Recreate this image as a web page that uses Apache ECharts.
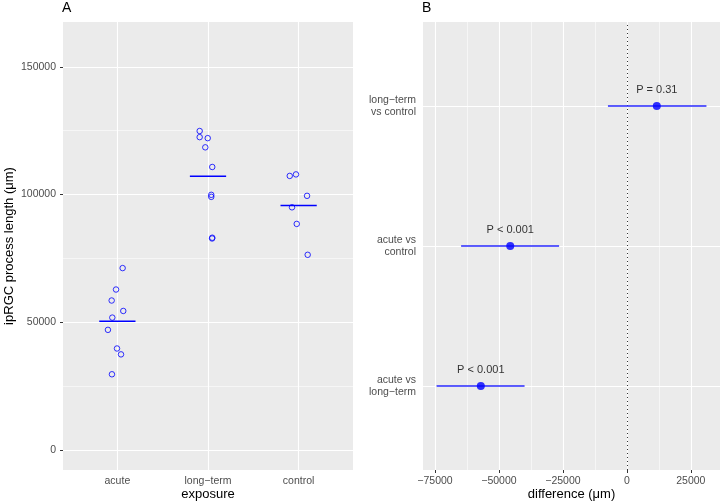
<!DOCTYPE html>
<html><head><meta charset="utf-8">
<script src="https://cdn.jsdelivr.net/npm/echarts@6/dist/echarts.min.js"></script>
<style>html,body{margin:0;padding:0;background:#fff}#c{width:720px;height:503px}</style>
</head><body><div id="c"></div>
<script>
// ---- Panel A data ----
const exposureCategories = ['acute', 'long\u2212term', 'control'];
const acuteValues    = [71200, 62800, 58500, 54400, 51800, 47000, 39700, 37400, 29600];
const acuteJitter    = [0.058, -0.015, -0.063, 0.065, -0.056, -0.104, -0.004, 0.040, -0.060];
const longTermValues = [124900, 122500, 122100, 118500, 110800, 99900, 99100, 83100, 82800];
const longTermJitter = [-0.092, -0.092, -0.003, -0.030, 0.047, 0.036, 0.036, 0.047, 0.045];
const controlValues  = [107300, 107900, 99500, 95000, 88500, 76400];
const controlJitter  = [-0.098, -0.029, 0.093, -0.073, -0.021, 0.100];
const groupMeans     = [50400, 107200, 95700];
const yTicksA        = [0, 50000, 100000, 150000];
const yMinorA        = [25000, 75000, 125000];

// ---- Panel B data ----
const comparisons = ['acute vs\nlong\u2212term', 'acute vs\ncontrol', 'long\u2212term\nvs control'];
const estimates   = [-57100, -45600, 11700];
const lowerCI     = [-74400, -64800, -7400];
const upperCI     = [-40000, -26500, 31100];
const pLabels     = ['P < 0.001', 'P < 0.001', 'P = 0.31'];
const xTicksB     = [-75000, -50000, -25000, 0, 25000];
const xMinorB     = [-62500, -37500, -12500, 12500];

const FONT = 'Liberation Sans, Arial, Helvetica, sans-serif';
const BLUE = '#0000FF';
const catPos = [1, 2, 3];
const fmtNum = v => (v < 0 ? '\u2212' + Math.abs(v) : String(v));

function gridLines(xi, yi, xs, ys, width) {
  const data = [];
  xs.forEach(v => data.push({ xAxis: v }));
  ys.forEach(v => data.push({ yAxis: v }));
  return {
    type: 'line', xAxisIndex: xi, yAxisIndex: yi, data: [], z: 1, silent: true,
    markLine: { z: 1, silent: true, symbol: 'none', animation: false, label: { show: false },
      emphasis: { disabled: true },
      lineStyle: { color: '#FFFFFF', width: width, type: 'solid' }, data: data }
  };
}

const series = [];
series.push(gridLines(0, 0, catPos, yTicksA, 1.1));
series.push(gridLines(0, 0, [], yMinorA, 0.55));
series.push(gridLines(1, 1, xTicksB, catPos, 1.1));
series.push(gridLines(1, 1, xMinorB, [], 0.55));
series.push({
  type: 'line', xAxisIndex: 1, yAxisIndex: 1, data: [], z: 2, silent: true,
  markLine: { z: 2, silent: true, symbol: 'none', animation: false, label: { show: false },
    emphasis: { disabled: true },
    lineStyle: { color: '#333333', width: 1, type: [1, 3] }, data: [{ xAxis: 0 }] }
});

// Panel A points and mean bars
[[acuteValues, acuteJitter], [longTermValues, longTermJitter], [controlValues, controlJitter]].forEach((g, i) => {
  series.push({
    type: 'scatter', xAxisIndex: 0, yAxisIndex: 0, z: 6,
    symbol: 'circle', symbolSize: 5.5,
    itemStyle: { color: 'rgba(0,0,0,0)', borderColor: BLUE, borderWidth: 1 },
    data: g[0].map((v, k) => [catPos[i] + g[1][k], v])
  });
  series.push({
    type: 'line', xAxisIndex: 0, yAxisIndex: 0, z: 5, showSymbol: false, symbol: 'none',
    lineStyle: { color: BLUE, width: 1.6 },
    data: [[catPos[i] - 0.2, groupMeans[i]], [catPos[i] + 0.2, groupMeans[i]]]
  });
});

// Panel B intervals and estimates
comparisons.forEach((c, i) => {
  series.push({
    type: 'line', xAxisIndex: 1, yAxisIndex: 1, z: 5, showSymbol: false, symbol: 'none',
    lineStyle: { color: '#2828FF', width: 1.5 },
    data: [[lowerCI[i], catPos[i]], [upperCI[i], catPos[i]]]
  });
});
series.push({
  type: 'scatter', xAxisIndex: 1, yAxisIndex: 1, z: 6, symbol: 'circle', symbolSize: 8,
  itemStyle: { color: BLUE },
  label: { show: true, position: 'top', distance: 7, color: '#000', fontFamily: FONT, fontSize: 11,
    formatter: p => pLabels[p.dataIndex] },
  data: estimates.map((v, i) => [v, catPos[i]])
});

const tickStyle = { show: true, length: 3, lineStyle: { color: '#333333', width: 1 } };
const labelStyle = { color: '#4D4D4D', fontFamily: FONT, fontSize: 10.5 };
const nameStyle = { color: '#000', fontFamily: FONT, fontSize: 13 };

const option = {
  animation: false,
  backgroundColor: '#FFFFFF',
  grid: [
    { left: 63, top: 22, width: 290, height: 448, show: true, backgroundColor: '#EBEBEB', borderWidth: 0,
      containLabel: false, outerBoundsMode: 'none' },
    { left: 423, top: 22, width: 297, height: 448, show: true, backgroundColor: '#EBEBEB', borderWidth: 0,
      containLabel: false, outerBoundsMode: 'none' }
  ],
  xAxis: [
    { type: 'value', gridIndex: 0, min: 0.4, max: 3.6,
      axisLine: { show: false }, splitLine: { show: false },
      axisTick: Object.assign({ customValues: catPos }, tickStyle),
      axisLabel: Object.assign({ customValues: catPos, margin: 6,
        formatter: v => exposureCategories[Math.round(v) - 1] }, labelStyle),
      name: 'exposure', nameLocation: 'middle', nameGap: 18, nameMoveOverlap: false, nameTextStyle: nameStyle },
    { type: 'value', gridIndex: 1, min: -79700, max: 36400,
      axisLine: { show: false }, splitLine: { show: false },
      axisTick: Object.assign({ customValues: xTicksB }, tickStyle),
      axisLabel: Object.assign({ customValues: xTicksB, margin: 6, formatter: fmtNum }, labelStyle),
      name: 'difference (\u03bcm)', nameLocation: 'middle', nameGap: 18, nameMoveOverlap: false, nameTextStyle: nameStyle }
  ],
  yAxis: [
    { type: 'value', gridIndex: 0, min: -7900, max: 167600,
      axisLine: { show: false }, splitLine: { show: false },
      axisTick: Object.assign({ customValues: yTicksA }, tickStyle),
      axisLabel: Object.assign({ customValues: yTicksA, margin: 7, formatter: fmtNum }, labelStyle),
      name: 'ipRGC process length (\u03bcm)', nameLocation: 'middle', nameGap: 47, nameMoveOverlap: false, nameTextStyle: nameStyle },
    { type: 'value', gridIndex: 1, min: 0.4, max: 3.6,
      axisLine: { show: false }, splitLine: { show: false },
      axisTick: Object.assign({ customValues: catPos }, tickStyle),
      axisLabel: Object.assign({ customValues: catPos, margin: 7, align: 'right', lineHeight: 12,
        formatter: v => comparisons[Math.round(v) - 1] }, labelStyle) }
  ],
  graphic: [
    { type: 'text', left: 62, top: 1, style: { text: 'A', font: '14px ' + FONT, fill: '#000' } },
    { type: 'text', left: 422, top: 1, style: { text: 'B', font: '14px ' + FONT, fill: '#000' } }
  ],
  series: series
};
const chart = echarts.init(document.getElementById('c'), null, { renderer: 'canvas' });
chart.setOption(option);
</script>
</body></html>
